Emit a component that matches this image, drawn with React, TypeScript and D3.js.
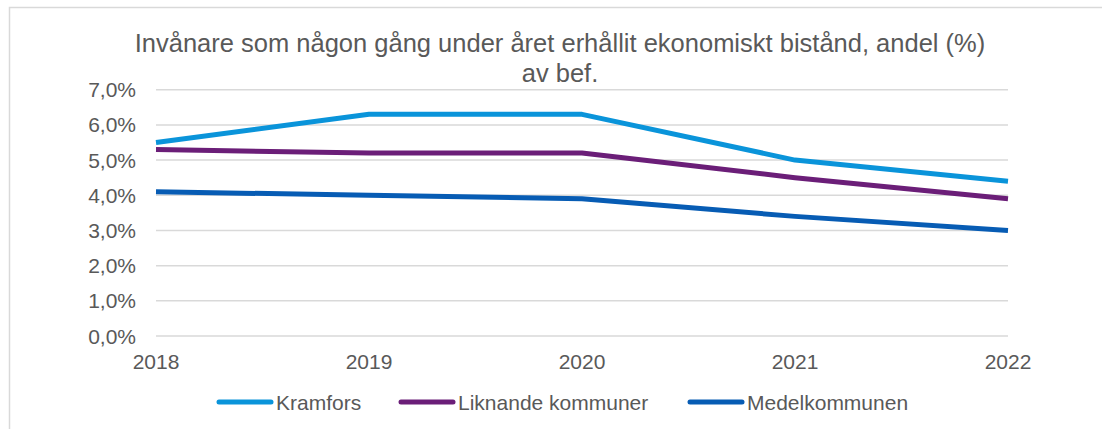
import React from "react";
import * as d3 from "d3";

const years = ["2018", "2019", "2020", "2021", "2022"];
const kramfors = [5.5, 6.3, 6.3, 5.0, 4.4];
const liknande = [5.3, 5.2, 5.2, 4.5, 3.9];
const medel = [4.1, 4.0, 3.9, 3.4, 3.0];
const yTicks = [0, 1, 2, 3, 4, 5, 6, 7];
const seriesNames = ["Kramfors", "Liknande kommuner", "Medelkommunen"];
const seriesColors = ["#0A94DA", "#6B1E78", "#075CB4"];
const titleLines = [
  "Invånare som någon gång under året erhållit ekonomiskt bistånd, andel (%)",
  "av bef.",
];

export default function App() {
  const W = 1102, H = 429;
  const x = d3.scalePoint<string>().domain(years).range([156, 1008]);
  const y = d3.scaleLinear().domain([0, 7]).range([336, 89.7]);
  const line = d3
    .line<number>()
    .x((_, i) => x(years[i]) as number)
    .y((d) => y(d));
  const data = [kramfors, liknande, medel];
  const fmt = (v: number) => v.toFixed(1).replace(".", ",") + "%";
  const legendX = [217, 399, 688];
  const font = "'Liberation Sans', Arial, sans-serif";
  const txt = "#595959";
  const fs = 21;
  return (
    <svg width={W} height={H} style={{ position: "absolute", left: 0, top: 0, fontFamily: font }}>
      <rect x={0} y={0} width={W} height={H} fill="#fff" />
      <rect x={9.5} y={7.5} width={W + 20} height={H + 20} fill="none" stroke="#D9D9D9" strokeWidth={1.5} />
      {titleLines.map((t, i) => (
        <text key={i} x={560} y={52 + i * 30} textAnchor="middle" fontSize={25.5} fill={txt}>
          {t}
        </text>
      ))}
      {yTicks.map((t) => (
        <g key={t}>
          <line x1={156} x2={1008} y1={y(t)} y2={y(t)} stroke="#D9D9D9" strokeWidth={1.5} />
          <text x={136} y={y(t) + 7.5} textAnchor="end" fontSize={fs} fill={txt}>
            {fmt(t)}
          </text>
        </g>
      ))}
      {years.map((yr) => (
        <text key={yr} x={x(yr)} y={369} textAnchor="middle" fontSize={fs} fill={txt}>
          {yr}
        </text>
      ))}
      {data.map((s, i) => (
        <path key={i} d={line(s) || ""} fill="none" stroke={seriesColors[i]} strokeWidth={5} strokeLinejoin="round" />
      ))}
      {seriesNames.map((n, i) => (
        <g key={n}>
          <line x1={legendX[i] + 2} x2={legendX[i] + 54} y1={402} y2={402} stroke={seriesColors[i]} strokeWidth={5} strokeLinecap="round" />
          <text x={legendX[i] + 59} y={409.5} fontSize={fs} fill={txt}>
            {n}
          </text>
        </g>
      ))}
    </svg>
  );
}
